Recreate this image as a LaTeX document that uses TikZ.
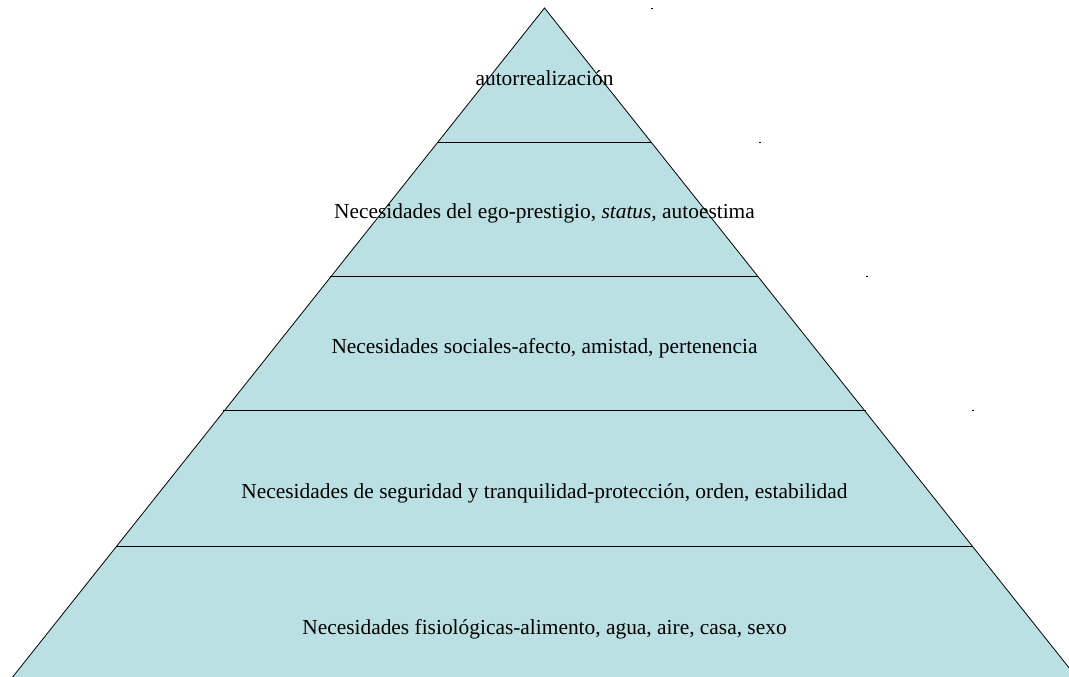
\documentclass[tikz,border=0pt]{standalone}
\usepackage{fontspec}
\setmainfont{Liberation Serif}
\definecolor{pyrfill}{RGB}{186,224,227}
\begin{document}
\begin{tikzpicture}[x=1pt,y=-1pt,
  lvl/.style={font=\fontsize{21.4}{25}\selectfont, text=black, inner sep=0pt},
  edge/.style={draw=black, line width=0.8pt},
  tick/.style={draw=black, line width=0.8pt}]
\useasboundingbox (0,0) rectangle (1069,677);
\begin{scope}
\clip (0,0) rectangle (1069,677);
\coordinate (apex) at (544.5,8);
\coordinate (bl) at (544.5-0.795*700,708);
\coordinate (br) at (544.5+0.795*700,708);
\path[fill=pyrfill, edge] (apex) -- (br) -- (bl) -- cycle;
\coordinate (l1) at (437,142); \coordinate (r1) at (652,142);
\coordinate (l2) at (330,276); \coordinate (r2) at (758,276);
\coordinate (l3) at (222.5,410); \coordinate (r3) at (865.5,410);
\coordinate (l4) at (116,546); \coordinate (r4) at (973,546);
\draw[edge] (l1) -- (r1);
\draw[edge] (l2) -- (r2);
\draw[edge] (l3) -- (r3);
\draw[edge] (l4) -- (r4);
\end{scope}
% small tick marks
\coordinate (t0a) at (651,8); \coordinate (t0b) at (653,8);
\coordinate (t1a) at (759,142); \coordinate (t1b) at (761,142);
\coordinate (t2a) at (866,276); \coordinate (t2b) at (868,276);
\coordinate (t3a) at (972,410); \coordinate (t3b) at (974,410);
\draw[tick] (t0a) -- (t0b);
\draw[tick] (t1a) -- (t1b);
\draw[tick] (t2a) -- (t2b);
\draw[tick] (t3a) -- (t3b);
\node[lvl] (n1) at (544.5,78) {autorrealización};
\node[lvl] (n2) at (544.5,213) {Necesidades del ego-prestigio, \textit{status}, autoestima};
\node[lvl] (n3) at (544.5,348) {Necesidades sociales-afecto, amistad, pertenencia};
\node[lvl] (n4) at (544.5,493) {Necesidades de seguridad y tranquilidad-protección, orden, estabilidad};
\node[lvl] (n5) at (544.5,629) {Necesidades fisiológicas-alimento, agua, aire, casa, sexo};
\end{tikzpicture}
\end{document}
